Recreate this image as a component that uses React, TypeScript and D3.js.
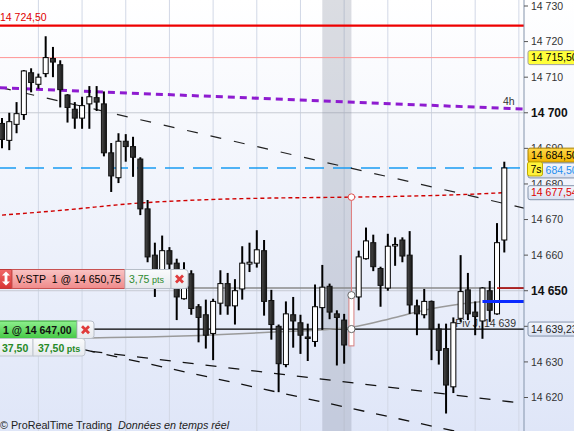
import * as d3 from 'd3';

const W = 574;
const H = 431;
const PLOT_RIGHT = 524;

// open, high, low, close — one per bar, left to right
const ohlc: [number, number, number, number][] = [
  [14697, 14698.5, 14690, 14692.5],
  [14692.25, 14700, 14689.5, 14697.5],
  [14696.75, 14703, 14694.25, 14699.75],
  [14699.5, 14712, 14698, 14711.75],
  [14711.25, 14712.5, 14705.75, 14708.5],
  [14708, 14711, 14706.75, 14710],
  [14711, 14721.5, 14710, 14715.5],
  [14715.25, 14718.5, 14710, 14714.25],
  [14713.5, 14714.75, 14701.5, 14706.5],
  [14705, 14705.25, 14697.25, 14701.5],
  [14701, 14703, 14695.5, 14698.5],
  [14698.5, 14704.5, 14695.5, 14702],
  [14702.5, 14707.5, 14695.5, 14704.5],
  [14704.25, 14707.5, 14700.5, 14703],
  [14702.5, 14706, 14687.75, 14688.75],
  [14688.75, 14691.5, 14677.75, 14682.25],
  [14681.75, 14694.25, 14680.25, 14692],
  [14692, 14694, 14686.25, 14690.5],
  [14690.5, 14693.25, 14682, 14687.5],
  [14687, 14687.5, 14671.25, 14673],
  [14673, 14675.5, 14658, 14659.5],
  [14660, 14663.5, 14648.25, 14653.5],
  [14654.5, 14665.5, 14652.5, 14661.25],
  [14661.25, 14662.25, 14653, 14657.5],
  [14657.75, 14659, 14641.75, 14648.25],
  [14647.75, 14658, 14647.5, 14650.75],
  [14654.75, 14655.75, 14643.25, 14645],
  [14645.5, 14646.25, 14635.5, 14642.5],
  [14643.25, 14647.5, 14633.75, 14637.5],
  [14638, 14647.75, 14630.5, 14647],
  [14646.5, 14655.75, 14643.25, 14652],
  [14652, 14655, 14643.25, 14645.75],
  [14645.75, 14653.25, 14640.5, 14650],
  [14650.5, 14662.5, 14647.5, 14657.75],
  [14657.5, 14663.5, 14655.25, 14658],
  [14657.75, 14667, 14656.5, 14661.5],
  [14661.25, 14664.25, 14643, 14647],
  [14647.25, 14650.25, 14636.25, 14640.5],
  [14640, 14640.5, 14621.5, 14629.5],
  [14629.25, 14647, 14628.5, 14643.5],
  [14643.25, 14648.25, 14634, 14641.5],
  [14641, 14643.25, 14632.25, 14637.5],
  [14637, 14640.75, 14630.25, 14636.75],
  [14635.75, 14651.75, 14634.25, 14645.5],
  [14645.25, 14657.25, 14639, 14651],
  [14651.25, 14652, 14642, 14644],
  [14643.5, 14644.5, 14629, 14642.5],
  [14641.75, 14643.5, 14629.5, 14634.75],
  [14634.5, 14648.75, 14634.5, 14648.75],
  [14648.25, 14661.25, 14644.5, 14659.5],
  [14659, 14667.75, 14658.75, 14664],
  [14663.5, 14665.75, 14655.5, 14656.75],
  [14656.25, 14656.75, 14645.5, 14651.5],
  [14650.75, 14666, 14650, 14662.5],
  [14663, 14665, 14657, 14663],
  [14664.25, 14665, 14658, 14659.75],
  [14660, 14666.75, 14643.5, 14646],
  [14645.75, 14647.5, 14637.5, 14643.5],
  [14643.25, 14650.5, 14642.25, 14647],
  [14647, 14647.25, 14630.5, 14639.25],
  [14639.25, 14640.75, 14629.25, 14633.25],
  [14633.75, 14640.75, 14615.5, 14623.5],
  [14623, 14642.5, 14621.25, 14641],
  [14642.25, 14660, 14641.25, 14649.75],
  [14650.25, 14655, 14641.75, 14643.5],
  [14644, 14647, 14637.5, 14642.75],
  [14641.5, 14651, 14636.5, 14650.75],
  [14650, 14652.75, 14641.25, 14644.5],
  [14643.5, 14669, 14643.25, 14663.5],
  [14664.25, 14686.25, 14660.75, 14684.5],
];

// moving averages read at a few bars: [bar index, price]
const redAverage: [number, number][] = [
  [0, 14671.25], [9, 14672.75], [18, 14674.5], [27, 14675.5], [36, 14676],
  [48, 14676.3], [54, 14676.5], [63, 14677], [69, 14677.54],
];
const greyAverage: [number, number][] = [
  [0, 14636.25], [12, 14636.75], [20, 14637], [36, 14638.25], [48, 14639.75],
  [54, 14642.5], [58, 14644.5], [63, 14646.25], [66, 14647],
];

// trend lines, two anchors each: [bar index, price]
const purpleTrend: [number, number][] = [[0, 14707], [69, 14701.25]];
const upperTrend: [number, number][] = [[0, 14707], [69, 14674.5]];
const lowerTrendA: [number, number][] = [[0, 14636], [69, 14619]];
const lowerTrendB: [number, number][] = [[0, 14638.5], [69, 14607.5]];

// horizontal price levels
const resistance = 14724.5;
const highLevel = 14715.5;
const lastPrice = 14684.5;
const stopOrder = 14650.75;
const entryPrice = 14647;
const pivot = 14639.23;
const redAverageLast = 14677.54;

const yTicks = d3.range(14620, 14731, 10);
const boldTicks = [14700, 14650];
const gridBars = d3.range(5, 72, 6);
const sessionBand = [44, 48];
const cursorBar = 48;
const positionBar = 66;
const stopBar = 68;

const FONT = "'Liberation Sans', Arial, sans-serif";
const NBSP = '\u00a0';

const fr = d3.formatLocale({ decimal: ',', thousands: ' ', grouping: [3], currency: ['', ''] });
const fmt2 = fr.format(',.2f');
const fmt0 = fr.format(',.0f');

function Cross({ cx, cy }: { cx: number; cy: number }) {
  return (
    <path
      d={`M${cx - 3.5},${cy - 3.5}L${cx + 3.5},${cy + 3.5}M${cx + 3.5},${cy - 3.5}L${cx - 3.5},${cy + 3.5}`}
      stroke="#e03c3c"
      strokeWidth={2.8}
    />
  );
}

function Tag({ x0, yc, w = 52, h = 14, fill, stroke, color, text }: any) {
  return (
    <g>
      <rect x={x0} y={yc - h / 2} width={w} height={h} rx={2} fill={fill} stroke={stroke} />
      <text x={x0 + 3} y={yc} dy="0.36em" fill={color} fontSize={10.5}>{text}</text>
    </g>
  );
}

export default function App() {
  const x = d3.scaleLinear().domain([0, 69]).range([2, 504.3]);
  const y = d3.scaleLinear().domain([14620, 14730]).range([397.5, 6]);

  const extend = (pts: [number, number][]) => {
    const [[i0, p0], [i1, p1]] = pts;
    const f = (i: number) => p0 + ((p1 - p0) * (i - i0)) / (i1 - i0);
    return { x1: 0, y1: y(f(x.invert(0))), x2: PLOT_RIGHT, y2: y(f(x.invert(PLOT_RIGHT))) };
  };

  const curve = d3
    .line<[number, number]>()
    .x((d) => x(d[0]))
    .y((d) => y(d[1]))
    .curve(d3.curveMonotoneX);

  const purple = extend(purpleTrend);
  const upper = extend(upperTrend);
  const lowA = extend(lowerTrendA);
  const lowB = extend(lowerTrendB);

  const cursorX = x(cursorBar);
  const cursorMA = redAverage.find((d) => d[0] === cursorBar)![1];
  const cursorClose = ohlc[cursorBar][3];

  return (
    <svg width={W} height={H} style={{ position: 'absolute', left: 0, top: 0, display: 'block' }} fontFamily={FONT}>
      <defs>
        <linearGradient id="bg" x1="0" y1="0" x2="0" y2="1">
          <stop offset="0" stopColor="#ffffff" />
          <stop offset="1" stopColor="#dfe6f8" />
        </linearGradient>
        <linearGradient id="bear" x1="0" y1="0" x2="1" y2="0">
          <stop offset="0" stopColor="#4a4a4a" />
          <stop offset="1" stopColor="#141414" />
        </linearGradient>
        <linearGradient id="redBox" x1="0" y1="0" x2="0" y2="1">
          <stop offset="0" stopColor="#f9c4c4" />
          <stop offset="1" stopColor="#f08a8a" />
        </linearGradient>
        <linearGradient id="redIcon" x1="0" y1="0" x2="0" y2="1">
          <stop offset="0" stopColor="#f06a6a" />
          <stop offset="1" stopColor="#d83434" />
        </linearGradient>
        <linearGradient id="greenBox" x1="0" y1="0" x2="0" y2="1">
          <stop offset="0" stopColor="#8ef08e" />
          <stop offset="1" stopColor="#45c845" />
        </linearGradient>
        <linearGradient id="lightBox" x1="0" y1="0" x2="0" y2="1">
          <stop offset="0" stopColor="#fafbfc" />
          <stop offset="1" stopColor="#e6e9ee" />
        </linearGradient>
        <linearGradient id="axisBox" x1="0" y1="0" x2="0" y2="1">
          <stop offset="0" stopColor="#f4f7fd" />
          <stop offset="1" stopColor="#d9e1f2" />
        </linearGradient>
        <linearGradient id="gold" x1="0" y1="0" x2="0" y2="1">
          <stop offset="0" stopColor="#ffd84a" />
          <stop offset="1" stopColor="#f0b400" />
        </linearGradient>
        <clipPath id="plot">
          <rect x={0} y={0} width={PLOT_RIGHT} height={H} />
        </clipPath>
      </defs>

      <rect width={W} height={H} fill="url(#bg)" />

      <g clipPath="url(#plot)">
        {/* grid */}
        {gridBars.map((i) => (
          <line key={i} x1={x(i)} x2={x(i)} y1={0} y2={H} stroke="#d2d8e6" strokeWidth={1} />
        ))}
        {boldTicks.map((t) => (
          <line key={t} x1={0} x2={PLOT_RIGHT} y1={y(t)} y2={y(t)} stroke="#c6cad3" strokeWidth={1} />
        ))}
        <rect x={x(sessionBand[0])} y={0} width={x(sessionBand[1]) - x(sessionBand[0])} height={H} fill="#7c8497" opacity={0.28} />

        {/* levels */}
        <line x1={0} x2={PLOT_RIGHT} y1={y(resistance)} y2={y(resistance)} stroke="#ee0000" strokeWidth={2.4} />
        <line x1={0} x2={PLOT_RIGHT} y1={y(highLevel)} y2={y(highLevel)} stroke="#ff9494" strokeWidth={1} />
        <line x1={0} x2={PLOT_RIGHT} y1={y(lastPrice)} y2={y(lastPrice)} stroke="#1a9cf2" strokeWidth={1.5} strokeDasharray="19,9" strokeDashoffset={3} />
        <line x1={0} x2={PLOT_RIGHT} y1={y(stopOrder)} y2={y(stopOrder)} stroke="#8a8a8a" strokeWidth={1.5} />
        <line x1={0} x2={PLOT_RIGHT} y1={y(pivot)} y2={y(pivot)} stroke="#000" strokeWidth={1.2} />

        {/* trend lines */}
        <line {...upper} stroke="#222" strokeWidth={1.2} strokeDasharray="11,13" />
        <line {...lowA} stroke="#111" strokeWidth={1.3} strokeDasharray="11,12" />
        <line {...lowB} stroke="#111" strokeWidth={1.3} strokeDasharray="11,12" strokeDashoffset={6} />
        <line {...purple} stroke="#8e1bd0" strokeWidth={3} strokeDasharray="7,5" />

        {/* averages */}
        <path d={curve(greyAverage)!} fill="none" stroke="#9a9a9a" strokeWidth={1.5} />
        <path d={curve(redAverage)!} fill="none" stroke="#d00000" strokeWidth={1.4} strokeDasharray="4,3" />

        <text x={x(62) + 2} y={y(pivot) - 2.5} fontSize={10.5} fill="#333">Piv J, 14 639</text>
        <text x={PLOT_RIGHT - 21} y={purple.y2 - 4} fontSize={10.5} fill="#333">4h</text>

        {/* candles */}
        {ohlc.map(([o, h, l, c], i) => {
          const cx = x(i);
          const up = c >= o;
          const top = y(Math.max(o, c));
          const bot = y(Math.min(o, c));
          const hl = i === cursorBar;
          return (
            <g key={i}>
              <line x1={cx} x2={cx} y1={y(h)} y2={y(l)} stroke="#000" strokeWidth={2} />
              <rect
                x={cx - 2.5}
                y={top}
                width={5}
                height={Math.max(bot - top, 1.5)}
                fill={up ? '#fff' : 'url(#bear)'}
                stroke={hl ? '#d88080' : up ? '#000' : '#111'}
                strokeWidth={1}
              />
            </g>
          );
        })}

        {/* cursor */}
        <line x1={cursorX} x2={cursorX} y1={y(cursorMA) + 3.5} y2={y(cursorClose)} stroke="#e07a7a" strokeWidth={1} />
        <circle cx={cursorX} cy={y(cursorMA)} r={3.3} fill="#fff" stroke="#e05050" strokeWidth={1} />
        <circle cx={cursorX} cy={y(cursorClose)} r={3.6} fill="#fff" stroke="#666" strokeWidth={1} />
        <circle cx={cursorX} cy={y(pivot)} r={3.6} fill="#fff" stroke="#666" strokeWidth={1} />

        {/* position lines */}
        <line x1={x(stopBar)} x2={PLOT_RIGHT} y1={y(stopOrder)} y2={y(stopOrder)} stroke="#b00000" strokeWidth={1.5} />
        <line x1={x(positionBar)} x2={PLOT_RIGHT} y1={y(entryPrice)} y2={y(entryPrice)} stroke="#0a2aff" strokeWidth={3} />
      </g>

      {/* stop order tag */}
      <g fontSize={10.5}>
        <rect x={-4} y={269.5} width={16} height={19} fill="url(#redIcon)" stroke="#c03838" />
        <path d="M6,271.5l-4,4h2.6v6h-2.6l4,4l4,-4h-2.6v-6h2.6z" fill="#fff" />
        <rect x={12} y={269.5} width={113} height={19} fill="url(#redBox)" stroke="#c85252" />
        <text x={16} y={283}>{`V:STP${NBSP} 1 @ ${fmt2(stopOrder)}`}</text>
        <rect x={125} y={269.5} width={46} height={19} fill="url(#lightBox)" stroke="#b7bec8" />
        <text x={129} y={283} fill="#2e8b2e">
          {fmt2(stopOrder - entryPrice)}
          <tspan fontSize={9}> pts</tspan>
        </text>
        <path d="M171,269.5h14a3,3 0 0 1 3,3v13a3,3 0 0 1 -3,3h-14z" fill="url(#lightBox)" stroke="#b7bec8" />
        <Cross cx={179.5} cy={279} />
      </g>

      {/* entry order tag */}
      <g fontSize={10.5}>
        <rect x={-4} y={321} width={81} height={17.5} fill="url(#greenBox)" stroke="#2ea02e" />
        <text x={3} y={333.5} fontWeight="bold" fill="#111">1 @ {fmt2(entryPrice)}</text>
        <path d="M77,321h14a3,3 0 0 1 3,3v11.5a3,3 0 0 1 -3,3h-14z" fill="url(#lightBox)" stroke="#b7bec8" />
        <Cross cx={85.5} cy={329.8} />
        <rect x={-4} y={338.5} width={37} height={17.5} fill="url(#lightBox)" stroke="#c0c6ce" />
        <text x={2} y={351.5} fontWeight="bold" fill="#268a26">37,50</text>
        <path d="M33,338.5h49a3,3 0 0 1 3,3v11.5a3,3 0 0 1 -3,3h-49z" fill="url(#lightBox)" stroke="#c0c6ce" />
        <text x={38} y={351.5} fontWeight="bold" fill="#268a26">
          37,50<tspan fontSize={9} fontWeight="bold"> pts</tspan>
        </text>
      </g>

      {/* right axis */}
      <line x1={PLOT_RIGHT} x2={PLOT_RIGHT} y1={0} y2={H} stroke="#8494ab" strokeWidth={1} />
      {yTicks.map((t) => {
        const bold = boldTicks.includes(t);
        return (
          <g key={t}>
            <line x1={PLOT_RIGHT} x2={PLOT_RIGHT + 4} y1={y(t)} y2={y(t)} stroke="#555" />
            <text
              x={531}
              y={y(t)}
              dy="0.36em"
              fontSize={bold ? 12 : 10.5}
              fontWeight={bold ? 'bold' : 'normal'}
              fill={bold ? '#111' : '#333'}
            >
              {fmt0(t)}
            </text>
          </g>
        );
      })}

      <Tag x0={528} yc={y(highLevel)} fill="#ffff3a" stroke="#a0a0a0" color="#000" text={fmt2(highLevel)} />
      <Tag x0={528} yc={y(lastPrice) - 12.8} fill="url(#gold)" stroke="#a88000" color="#000" text={fmt2(lastPrice)} />
      <Tag x0={528} yc={y(lastPrice) + 2.5} h={15} fill="url(#axisBox)" stroke="#8393aa" color="#1e8ff0" text={fmt2(lastPrice)} />
      <Tag x0={527.5} yc={y(lastPrice) + 1} w={15} fill="#fff23c" stroke="#c0aa00" color="#000" text="7s" />
      <Tag x0={528} yc={y(redAverageLast)} fill="url(#axisBox)" stroke="#8393aa" color="#dd0000" text={fmt2(redAverageLast)} />
      <Tag x0={528} yc={y(pivot)} fill="url(#axisBox)" stroke="#8393aa" color="#222" text={fmt2(pivot)} />

      {/* texts */}
      <text x={0} y={21} fontSize={10.5} fill="#e00000">{fmt2(resistance)}</text>
      <text x={0} y={429} fontSize={10.75} fill="#222">
        {`© ProRealTime Trading${NBSP} `}
        <tspan fontStyle="italic">Données en temps réel</tspan>
      </text>
    </svg>
  );
}
